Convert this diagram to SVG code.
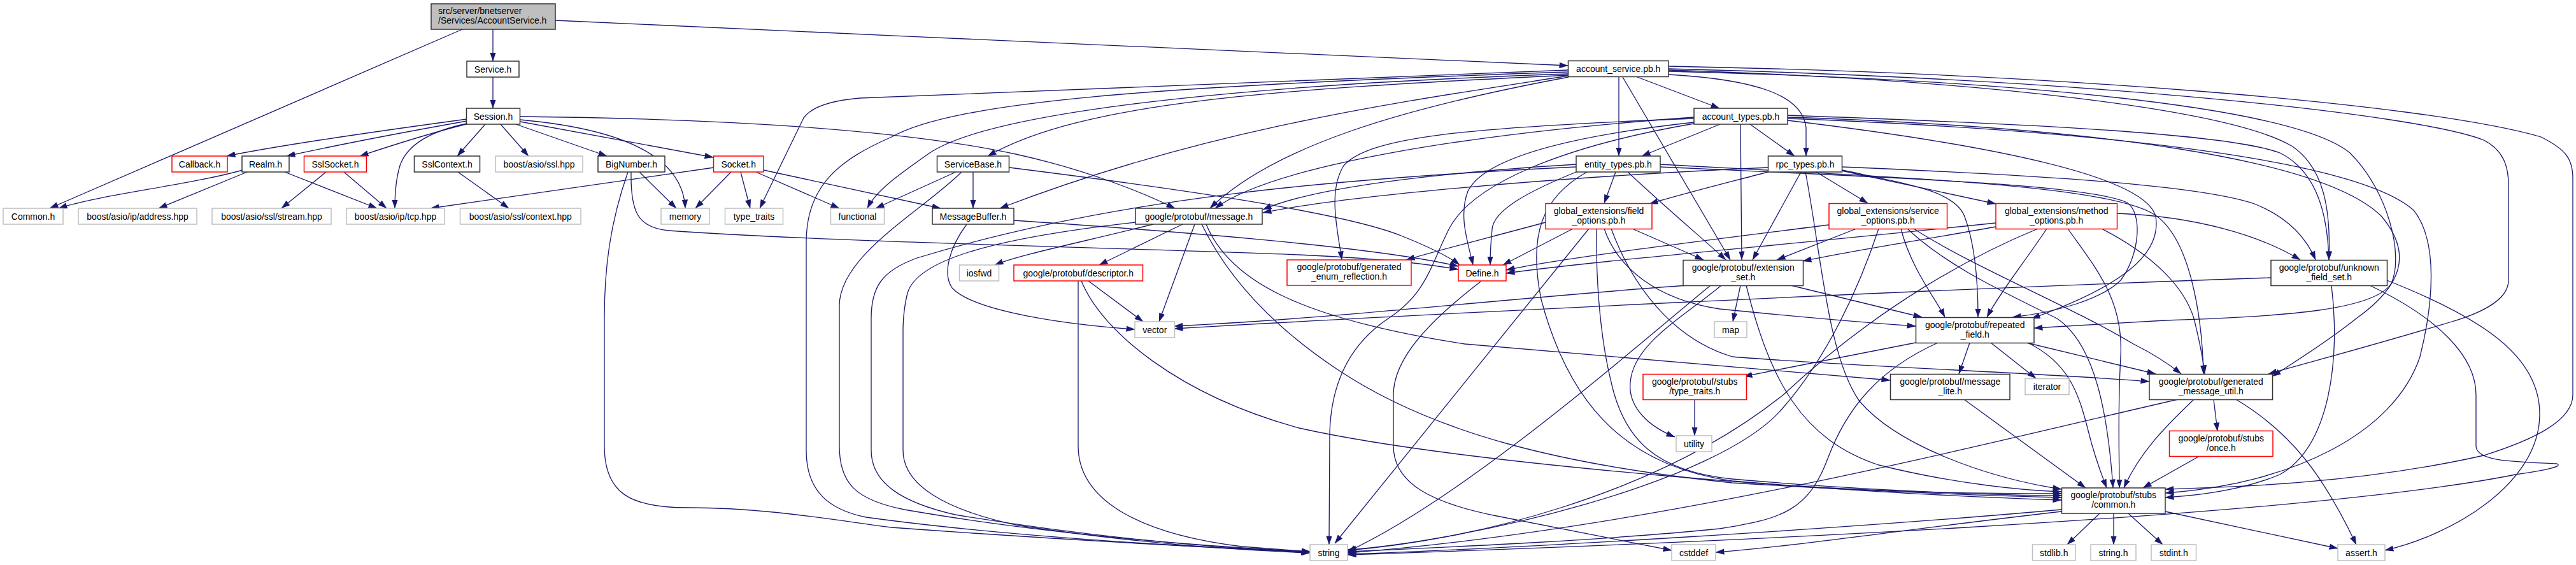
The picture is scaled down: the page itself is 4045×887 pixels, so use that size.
<svg xmlns="http://www.w3.org/2000/svg" width="4045" height="887" viewBox="0 0 4045 887">
<defs>
<marker id="ah" viewBox="0 0 14 10" refX="13.5" refY="5" markerWidth="14" markerHeight="10" markerUnits="userSpaceOnUse" orient="auto"><path d="M0,0.3L14,5L0,9.7z" fill="#191970"/></marker>
<style>
.e{fill:none;stroke:#191970;stroke-width:1.3;marker-end:url(#ah)}
.nb rect{fill:#fff;stroke:#333;stroke-width:1.5}
.nr rect{fill:#fff;stroke:#ff0000;stroke-width:1.5}
.ng rect{fill:#fff;stroke:#bfbfbf;stroke-width:1.5}
.nt rect{fill:#bfbfbf;stroke:#333;stroke-width:1.5}
text{font-family:"Liberation Sans",Arial,sans-serif;font-size:14px;fill:#000;text-anchor:middle}
.l{text-anchor:start}
</style>
</defs>
<rect width="4045" height="887" fill="#fff"/>
<g id="edges">
<path class="e" d="M774,46 L774,96"/>
<path class="e" d="M726,46 L78,327"/>
<path class="e" d="M872,32 C1400,55 2000,85 2462,103"/>
<path class="e" d="M774,121 L774,170"/>
<path class="e" d="M733,187 C600,205 430,230 356,245"/>
<path class="e" d="M733,190 C620,210 510,232 450,245"/>
<path class="e" d="M736,194 C670,210 610,230 565,245"/>
<path class="e" d="M733,194 C680,205 640,225 628,260 C622,280 620,300 620,327"/>
<path class="e" d="M762,195 L718,245"/>
<path class="e" d="M786,195 L830,245"/>
<path class="e" d="M810,195 L953,245"/>
<path class="e" d="M817,191 L1120,247"/>
<path class="e" d="M817,188 C950,200 1072,235 1076,327"/>
<path class="e" d="M817,183 C1100,186 1400,200 1595,242 C1700,265 1790,300 1845,327"/>
<path class="e" d="M381,267 C300,290 160,305 92,327"/>
<path class="e" d="M388,270 L249,327"/>
<path class="e" d="M447,270 L592,327"/>
<path class="e" d="M512,270 L442,327"/>
<path class="e" d="M540,270 L607,327"/>
<path class="e" d="M719,270 L799,327"/>
<path class="e" d="M1004,270 L1062,327"/>
<path class="e" d="M986,270 C958,350 949,420 949,500 L949,700 C949,775 990,797 1080,797 C1200,797 1300,815 1400,828 C1700,850 1950,862 2057,866"/>
<path class="e" d="M991,270 C990,330 1000,358 1050,362 C1300,380 1800,390 2040,400 C2150,405 2240,414 2290,423"/>
<path class="e" d="M1121,263 L676,327"/>
<path class="e" d="M1148,270 L1092,327"/>
<path class="e" d="M1163,270 L1178,327"/>
<path class="e" d="M1187,270 L1318,327"/>
<path class="e" d="M1199,267 L1477,327"/>
<path class="e" d="M1501,270 L1375,327"/>
<path class="e" d="M1528,270 L1528,327"/>
<path class="e" d="M1510,270 C1450,330 1318,400 1318,480 L1318,700 C1318,760 1345,785 1420,800 C1650,840 1900,858 2057,866"/>
<path class="e" d="M1585,263 C1800,290 2100,330 2200,370 C2250,390 2278,405 2292,416"/>
<path class="e" d="M1518,352 C1490,390 1480,430 1495,452 C1530,490 1680,510 1782,517"/>
<path class="e" d="M1592,346 C1800,360 2150,385 2290,418"/>
<path class="e" d="M1811,352 C1700,380 1600,400 1562,416"/>
<path class="e" d="M1857,352 L1726,416"/>
<path class="e" d="M1876,352 L1820,505"/>
<path class="e" d="M1894,352 C1930,440 2040,500 2300,540 C2600,565 2850,585 2968,597"/>
<path class="e" d="M1887,352 C1920,420 1980,500 2100,580 C2250,680 2450,730 2720,758 C3000,775 3150,779 3237,781"/>
<path class="e" d="M1783,349 C1550,375 1440,410 1425,460 C1420,480 1418,500 1418,520 L1418,707 C1418,760 1480,800 1600,825 C1800,855 1950,864 2057,868"/>
<path class="e" d="M1709,441 L1795,505"/>
<path class="e" d="M1693,441 L1693,700 C1693,790 1800,840 1950,858 L2057,866"/>
<path class="e" d="M1698,441 C1730,520 1850,620 2040,672 C2300,730 2900,775 3237,785"/>
<path class="e" d="M2462,110 L1350,154 Q1280,160 1262,185 L1193,327"/>
<path class="e" d="M2462,113 C1800,135 1500,160 1400,215 C1320,250 1266,290 1266,380 L1266,707 C1266,770 1300,800 1360,812 C1600,845 1900,860 2057,867"/>
<path class="e" d="M2462,116 C1900,135 1550,180 1460,240 C1410,275 1375,300 1362,327"/>
<path class="e" d="M2462,118 C2000,140 1700,160 1551,245"/>
<path class="e" d="M2463,119 C2200,160 1900,200 1570,327"/>
<path class="e" d="M2463,121 C2200,170 2000,230 1900,327"/>
<path class="e" d="M2571,121 L2700,170"/>
<path class="e" d="M2542,121 L2542,245"/>
<path class="e" d="M2620,117 C2760,125 2830,150 2836,200 L2836,245"/>
<path class="e" d="M2548,121 L2717,408"/>
<path class="e" d="M2620,104 C3200,115 3800,160 3990,215 C4030,235 4040,250 4040,280 L4040,620 C4040,660 3980,690 3900,715 C3700,760 3500,765 3400,768"/>
<path class="e" d="M2620,108 C3300,125 3800,180 3900,220 C3930,235 3939,260 3939,290 L3939,440 C3939,470 3900,490 3850,505 C3700,550 3620,570 3562,587"/>
<path class="e" d="M2620,110 C3100,125 3500,170 3600,230 C3650,265 3660,330 3657,408"/>
<path class="e" d="M2620,112 C3150,125 3600,165 3690,240 C3750,300 3775,400 3755,445 C3730,485 3600,497 3400,503 L3194,515"/>
<path class="e" d="M2701,195 L2578,245"/>
<path class="e" d="M2748,195 L2818,245"/>
<path class="e" d="M2733,195 L2735,408"/>
<path class="e" d="M2660,186 C2300,200 2150,215 2110,260 C2085,300 2100,360 2107,408"/>
<path class="e" d="M2660,192 C2450,215 2330,250 2305,300 C2290,340 2305,380 2313,416"/>
<path class="e" d="M2660,184 C2300,210 2000,260 1908,327"/>
<path class="e" d="M2660,194 C2450,230 2310,290 2275,360 C2245,420 2240,460 2180,500 C2120,540 2090,600 2088,680 L2087,855"/>
<path class="e" d="M2807,181 C3200,195 3500,210 3580,240 C3640,270 3655,340 3657,408"/>
<path class="e" d="M2807,184 C3300,200 3650,250 3740,340 C3790,400 3770,450 3700,500 C3650,540 3600,570 3568,591"/>
<path class="e" d="M2807,186 C3300,205 3700,250 3790,330 C3830,380 3820,480 3800,560 C3760,680 3600,760 3400,774"/>
<path class="e" d="M2807,189 C3150,230 3370,280 3385,340 C3395,400 3330,450 3190,500"/>
<path class="e" d="M2537,270 L2519,319"/>
<path class="e" d="M2556,270 C2620,330 2680,380 2710,408"/>
<path class="e" d="M2480,268 C2400,300 2345,330 2343,360 C2341,380 2340,400 2340,416"/>
<path class="e" d="M2475,262 C2100,280 1750,310 1440,405 C1385,425 1368,450 1368,500 L1368,707 C1368,760 1420,790 1500,808 C1750,850 1950,862 2057,867"/>
<path class="e" d="M2475,258 C2200,275 2050,300 1983,329"/>
<path class="e" d="M2492,270 C2420,310 2400,370 2420,470 C2460,620 2540,730 2720,755 C2950,775 3150,775 3237,775"/>
<path class="e" d="M2607,258 C3000,280 3300,290 3380,335 C3440,370 3458,500 3460,587"/>
<path class="e" d="M2607,262 C3000,280 3280,290 3340,318 C3365,335 3360,400 3330,440 C3300,470 3230,490 3160,498"/>
<path class="e" d="M2852,270 L2933,319"/>
<path class="e" d="M2892,268 L3134,320"/>
<path class="e" d="M2828,270 L2752,408"/>
<path class="e" d="M2776,263 C2400,280 2100,310 1983,334"/>
<path class="e" d="M2776,270 C2700,290 2640,305 2590,320"/>
<path class="e" d="M2835,270 C2860,400 2870,560 2920,630 C2980,700 3120,750 3237,768"/>
<path class="e" d="M2892,262 C3200,275 3450,290 3540,320 C3590,340 3620,370 3636,408"/>
<path class="e" d="M2893,267 C3000,290 3070,300 3085,340 C3100,380 3106,440 3106,498"/>
<path class="e" d="M2427,349 C2350,370 2250,395 2208,408"/>
<path class="e" d="M2470,359 L2360,416"/>
<path class="e" d="M2495,359 L2096,853"/>
<path class="e" d="M2507,359 C2506,420 2510,520 2530,600 C2550,690 2600,740 2720,752 C2950,772 3150,778 3237,778"/>
<path class="e" d="M2519,359 C2540,420 2600,470 2700,485 C2850,500 2950,508 3008,512"/>
<path class="e" d="M2563,359 L2675,408"/>
<path class="e" d="M2530,359 C2560,440 2620,530 2720,560 C2900,575 3200,585 3375,599"/>
<path class="e" d="M2872,353 C2700,375 2450,405 2365,424"/>
<path class="e" d="M2915,359 L2790,408"/>
<path class="e" d="M2950,359 C2920,450 2870,560 2800,640 C2700,760 2300,850 2116,863"/>
<path class="e" d="M2985,359 C3000,420 3040,470 3054,498"/>
<path class="e" d="M2995,359 C3060,420 3150,460 3230,500 C3290,540 3310,650 3318,766"/>
<path class="e" d="M3005,359 C3100,420 3250,480 3350,540 C3390,560 3410,575 3425,587"/>
<path class="e" d="M3134,350 C2800,385 2500,410 2365,429"/>
<path class="e" d="M3134,356 C3000,380 2900,395 2831,410"/>
<path class="e" d="M3214,359 C3180,410 3140,460 3120,498"/>
<path class="e" d="M3200,359 C3100,400 2950,480 2800,620 C2600,780 2300,850 2116,864"/>
<path class="e" d="M3247,359 C3290,420 3335,470 3330,560 C3325,650 3328,720 3328,766"/>
<path class="e" d="M3300,359 C3380,400 3430,450 3445,500 C3455,540 3460,570 3462,587"/>
<path class="e" d="M3325,335 C3450,340 3550,370 3612,408"/>
<path class="e" d="M2650,448 C2400,465 2100,500 1844,512"/>
<path class="e" d="M2733,448 L2721,505"/>
<path class="e" d="M2703,448 C2640,500 2565,540 2560,600 C2556,640 2590,670 2630,686"/>
<path class="e" d="M2686,448 C2550,560 2300,780 2116,866"/>
<path class="e" d="M2812,448 L3018,498"/>
<path class="e" d="M2742,448 C2780,600 2830,690 2950,730 C3070,760 3180,770 3237,772"/>
<path class="e" d="M3566,436 C3000,455 2200,495 1844,516"/>
<path class="e" d="M3661,448 C3675,560 3660,700 3580,745 C3520,770 3450,778 3400,781"/>
<path class="e" d="M3748,440 C3900,500 3988,560 3988,650 C3988,760 3850,840 3745,864"/>
<path class="e" d="M3721,448 C3830,500 3888,560 3888,620 L3888,700 C3888,725 3950,725 4015,728 C4025,732 4000,738 3950,745 C3600,815 2600,855 2116,871"/>
<path class="e" d="M3093,538 L3076,587"/>
<path class="e" d="M3126,538 L3197,594"/>
<path class="e" d="M3008,538 L2738,591"/>
<path class="e" d="M3182,538 L3385,587"/>
<path class="e" d="M3184,538 C3250,570 3265,620 3280,680 C3290,720 3300,745 3308,766"/>
<path class="e" d="M3043,538 C2950,580 2900,640 2870,720 C2840,800 2800,815 2700,830 C2500,850 2250,860 2116,866"/>
<path class="e" d="M3084,627 L3275,766"/>
<path class="e" d="M2661,627 L2661,684"/>
<path class="e" d="M3476,627 L3482,677"/>
<path class="e" d="M3511,627 C3600,680 3650,750 3700,855"/>
<path class="e" d="M3445,627 C3400,670 3360,710 3335,766"/>
<path class="e" d="M3420,627 C3100,700 2600,830 2116,868"/>
<path class="e" d="M3452,717 L3365,766"/>
<path class="e" d="M3297,806 L3246,855"/>
<path class="e" d="M3319,806 L3319,855"/>
<path class="e" d="M3342,806 L3396,855"/>
<path class="e" d="M3400,803 L3671,861"/>
<path class="e" d="M3237,800 C2900,830 2400,860 2116,870"/>
<path class="e" d="M3237,803 C3000,830 2800,860 2694,867"/>
<path class="e" d="M2325,442 C2250,500 2188,560 2188,620 L2188,700 C2188,760 2250,790 2350,810 C2450,830 2550,850 2625,864"/>
</g>
<g id="n_title" class="nt"><rect x="677" y="6" width="195" height="40"/><text class="l" x="688" y="21.7">src/server/bnetserver</text><text class="l" x="688" y="36.7">/Services/AccountService.h</text></g>
<g id="n_service" class="nb"><rect x="733" y="96" width="82" height="25"/><text x="774" y="113.5">Service.h</text></g>
<g id="n_session" class="nb"><rect x="732.5" y="170" width="84" height="25"/><text x="774.5" y="187.5">Session.h</text></g>
<g id="n_callback" class="nr"><rect x="270" y="245" width="87" height="25"/><text x="313.5" y="262.5">Callback.h</text></g>
<g id="n_realm" class="nb"><rect x="380" y="245" width="74" height="25"/><text x="417" y="262.5">Realm.h</text></g>
<g id="n_sslsocket" class="nr"><rect x="477.5" y="245" width="98" height="25"/><text x="526.5" y="262.5">SslSocket.h</text></g>
<g id="n_sslcontext" class="nb"><rect x="650.5" y="245" width="103" height="25"/><text x="702" y="262.5">SslContext.h</text></g>
<g id="n_boostssl" class="ng"><rect x="778" y="245" width="137" height="25"/><text x="846.5" y="262.5">boost/asio/ssl.hpp</text></g>
<g id="n_bignumber" class="nb"><rect x="939" y="245" width="105" height="25"/><text x="991.5" y="262.5">BigNumber.h</text></g>
<g id="n_socket" class="nr"><rect x="1120.5" y="245" width="78.5" height="25"/><text x="1159.75" y="262.5">Socket.h</text></g>
<g id="n_servicebase" class="nb"><rect x="1471.5" y="245" width="113" height="25"/><text x="1528" y="262.5">ServiceBase.h</text></g>
<g id="n_common" class="ng"><rect x="5" y="327" width="94" height="25"/><text x="52" y="344.5">Common.h</text></g>
<g id="n_address" class="ng"><rect x="123" y="327" width="186" height="25"/><text x="216" y="344.5">boost/asio/ip/address.hpp</text></g>
<g id="n_stream" class="ng"><rect x="333" y="327" width="187" height="25"/><text x="426.5" y="344.5">boost/asio/ssl/stream.hpp</text></g>
<g id="n_tcp" class="ng"><rect x="544" y="327" width="154" height="25"/><text x="621" y="344.5">boost/asio/ip/tcp.hpp</text></g>
<g id="n_context" class="ng"><rect x="722.5" y="327" width="189.5" height="25"/><text x="817.25" y="344.5">boost/asio/ssl/context.hpp</text></g>
<g id="n_memory" class="ng"><rect x="1038" y="327" width="76" height="25"/><text x="1076" y="344.5">memory</text></g>
<g id="n_type_traits" class="ng"><rect x="1138.5" y="327" width="91" height="25"/><text x="1184" y="344.5">type_traits</text></g>
<g id="n_functional" class="ng"><rect x="1304.5" y="327" width="84" height="25"/><text x="1346.5" y="344.5">functional</text></g>
<g id="n_messagebuffer" class="nb"><rect x="1464" y="327" width="128" height="25"/><text x="1528" y="344.5">MessageBuffer.h</text></g>
<g id="n_message" class="nb"><rect x="1783" y="327" width="199" height="25"/><text x="1882.5" y="344.5">google/protobuf/message.h</text></g>
<g id="n_iosfwd" class="ng"><rect x="1506.5" y="416" width="62" height="25"/><text x="1537.5" y="433.5">iosfwd</text></g>
<g id="n_descriptor" class="nr"><rect x="1592" y="416" width="202.5" height="25"/><text x="1693.25" y="433.5">google/protobuf/descriptor.h</text></g>
<g id="n_enum_reflection" class="nr"><rect x="2021" y="408" width="195" height="40"/><text x="2118.5" y="424">google/protobuf/generated</text><text x="2118.5" y="439">_enum_reflection.h</text></g>
<g id="n_define" class="nr"><rect x="2290" y="416" width="75" height="25"/><text x="2327.5" y="433.5">Define.h</text></g>
<g id="n_account_service" class="nb"><rect x="2462.5" y="95.5" width="157.5" height="25"/><text x="2541.25" y="113">account_service.pb.h</text></g>
<g id="n_account_types" class="nb"><rect x="2660" y="170" width="147" height="25"/><text x="2733.5" y="187.5">account_types.pb.h</text></g>
<g id="n_entity_types" class="nb"><rect x="2475" y="245" width="132" height="25"/><text x="2541" y="262.5">entity_types.pb.h</text></g>
<g id="n_rpc_types" class="nb"><rect x="2776.5" y="245" width="116" height="25"/><text x="2834.5" y="262.5">rpc_types.pb.h</text></g>
<g id="n_field_options" class="nr"><rect x="2427" y="319.5" width="167" height="40"/><text x="2510.5" y="335.5">global_extensions/field</text><text x="2510.5" y="350.5">_options.pb.h</text></g>
<g id="n_service_options" class="nr"><rect x="2872" y="319.5" width="185.5" height="40"/><text x="2964.75" y="335.5">global_extensions/service</text><text x="2964.75" y="350.5">_options.pb.h</text></g>
<g id="n_method_options" class="nr"><rect x="3134" y="319.5" width="190.5" height="40"/><text x="3229.25" y="335.5">global_extensions/method</text><text x="3229.25" y="350.5">_options.pb.h</text></g>
<g id="n_extension_set" class="nb"><rect x="2643" y="408.5" width="188.5" height="40"/><text x="2737.25" y="424.5">google/protobuf/extension</text><text x="2737.25" y="439.5">_set.h</text></g>
<g id="n_unknown_field_set" class="nb"><rect x="3566" y="408.5" width="182.5" height="40"/><text x="3657.25" y="424.5">google/protobuf/unknown</text><text x="3657.25" y="439.5">_field_set.h</text></g>
<g id="n_vector" class="ng"><rect x="1782" y="505" width="62.5" height="25"/><text x="1813.25" y="522.5">vector</text></g>
<g id="n_map" class="ng"><rect x="2692" y="505" width="51" height="25"/><text x="2717.5" y="522.5">map</text></g>
<g id="n_repeated_field" class="nb"><rect x="3008.5" y="498.5" width="185.5" height="40"/><text x="3101.25" y="514.5">google/protobuf/repeated</text><text x="3101.25" y="529.5">_field.h</text></g>
<g id="n_stubs_type_traits" class="nr"><rect x="2580" y="587.5" width="162.5" height="40"/><text x="2661.25" y="603.5">google/protobuf/stubs</text><text x="2661.25" y="618.5">/type_traits.h</text></g>
<g id="n_message_lite" class="nb"><rect x="2968.5" y="587.5" width="187.5" height="40"/><text x="3062.25" y="603.5">google/protobuf/message</text><text x="3062.25" y="618.5">_lite.h</text></g>
<g id="n_iterator" class="ng"><rect x="3180" y="594.5" width="69" height="25"/><text x="3214.5" y="612">iterator</text></g>
<g id="n_generated_message_util" class="nb"><rect x="3375" y="587.5" width="193.5" height="40"/><text x="3471.75" y="603.5">google/protobuf/generated</text><text x="3471.75" y="618.5">_message_util.h</text></g>
<g id="n_utility" class="ng"><rect x="2632" y="684" width="56" height="25"/><text x="2660" y="701.5">utility</text></g>
<g id="n_once" class="nr"><rect x="3406.5" y="676.5" width="162.5" height="40"/><text x="3487.75" y="692.5">google/protobuf/stubs</text><text x="3487.75" y="707.5">/once.h</text></g>
<g id="n_stubs_common" class="nb"><rect x="3237.5" y="766" width="162.5" height="40"/><text x="3318.75" y="782">google/protobuf/stubs</text><text x="3318.75" y="797">/common.h</text></g>
<g id="n_string" class="ng"><rect x="2057" y="855" width="59" height="25"/><text x="2086.5" y="872.5">string</text></g>
<g id="n_cstddef" class="ng"><rect x="2625" y="855" width="69" height="25"/><text x="2659.5" y="872.5">cstddef</text></g>
<g id="n_stdlib" class="ng"><rect x="3191.5" y="855" width="67.5" height="25"/><text x="3225.25" y="872.5">stdlib.h</text></g>
<g id="n_string_h" class="ng"><rect x="3283" y="855" width="71" height="25"/><text x="3318.5" y="872.5">string.h</text></g>
<g id="n_stdint" class="ng"><rect x="3378" y="855" width="70.5" height="25"/><text x="3413.25" y="872.5">stdint.h</text></g>
<g id="n_assert" class="ng"><rect x="3671" y="855" width="74" height="25"/><text x="3708" y="872.5">assert.h</text></g>
</svg>
